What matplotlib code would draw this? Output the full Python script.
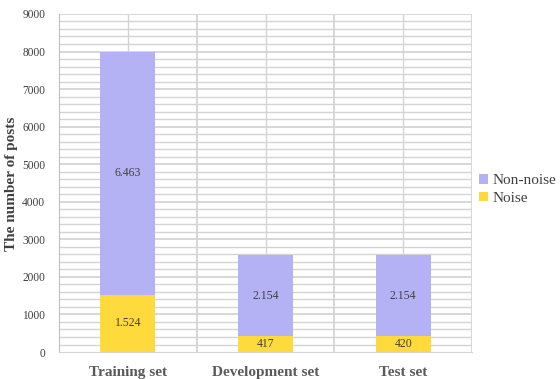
import numpy as np
import matplotlib.pyplot as plt

categories = ['Training set', 'Development set', 'Test set']
noise = [1524, 417, 420]
non_noise = [6463, 2154, 2154]
noise_labels = ['1.524', '417', '420']
non_noise_labels = ['6.463', '2.154', '2.154']

serif = ['Liberation Serif', 'DejaVu Serif']
purple = '#b4b1f5'
yellow = '#ffda3d'
txt = '#404040'

fig = plt.figure(figsize=(5.6, 3.79), dpi=100)
ax = fig.add_axes([0.1054, 0.0712, 0.7375, 0.892])

x = np.arange(len(categories))
b1 = ax.bar(x, noise, 0.4, color=yellow, label='Noise', zorder=3)
b2 = ax.bar(x, non_noise, 0.4, bottom=noise, color=purple, label='Non-noise', zorder=3)

for i in range(len(x)):
    ax.text(x[i], noise[i] / 2, noise_labels[i], ha='center', va='center',
            fontsize=8.5, family=serif, color=txt, zorder=4)
    ax.text(x[i], noise[i] + non_noise[i] / 2, non_noise_labels[i], ha='center',
            va='center', fontsize=8.5, family=serif, color=txt, zorder=4)

ax.set_xlim(-0.5, 2.5)
ax.set_ylim(0, 9000)
ax.set_yticks(np.arange(0, 9001, 1000))
ax.set_yticklabels([str(v) for v in range(0, 9001, 1000)], family=serif,
                   fontsize=8.3, color=txt)
ax.set_xticks(x)
ax.set_xticklabels(categories, family=serif, fontsize=11, fontweight='bold',
                   color='#595959')
ax.tick_params(axis='x', length=0, pad=10)
ax.tick_params(axis='y', length=0, pad=10)

# grid
for v in np.arange(200, 9001, 200):
    ax.axhline(v, color='#d4d4d4', lw=1.0 if v % 1000 else 1.3, zorder=1)
for v in np.arange(-0.5, 2.6, 0.5):
    ax.axvline(v, color='#d4d4d4', lw=1.3 if (v + 0.5) % 1 == 0 else 1.0, zorder=1)

for s in ['top', 'right']:
    ax.spines[s].set_visible(False)
ax.spines['left'].set_color('#bfbfbf')
ax.spines['bottom'].set_color('#d4d4d4')

ax.set_ylabel('The number of posts', family=serif, fontsize=11,
              fontweight='bold', color='#404040')
ax.yaxis.set_label_coords(-0.1, 0.497)

handles = [b2, b1]
fig.legend(handles, ['Non-noise', 'Noise'], loc='center left',
           bbox_to_anchor=(0.855, 0.5), frameon=False,
           prop={'family': serif, 'size': 11}, handlelength=0.6,
           handleheight=0.6, handletextpad=0.3, labelspacing=0.3,
           labelcolor='#404040', borderpad=0, borderaxespad=0)

fig.savefig('out.png', dpi=100)
